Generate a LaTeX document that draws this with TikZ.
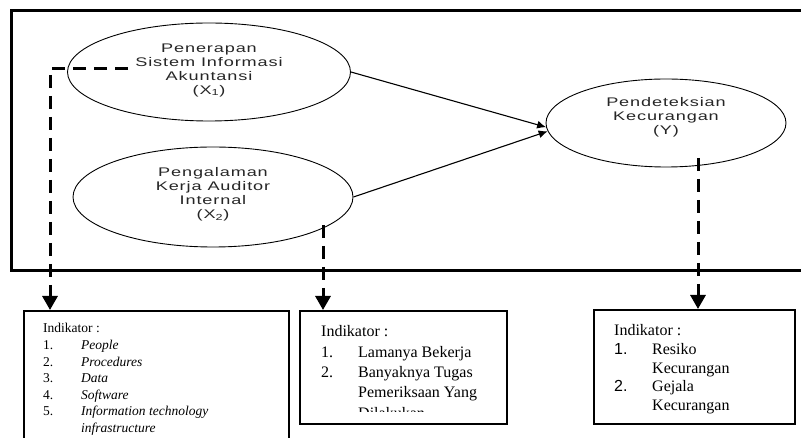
\documentclass[tikz,border=0pt]{standalone}
\usepackage{fontspec}
\setmainfont{Liberation Serif}
\newfontfamily\ellfont[FakeStretch=1.45,LetterSpace=7]{Liberation Sans}
\newfontfamily\arialfont{Liberation Sans}
\usetikzlibrary{arrows.meta,shapes.geometric}
\begin{document}
\begin{tikzpicture}[x=1pt,y=-1pt,
  ell/.style={draw, ellipse, line width=0.9pt, inner sep=0pt},
  elltext/.style={align=center, font=\ellfont\fontsize{12.5}{14}\selectfont, text=black!85, inner sep=0pt},
  link/.style={line width=1.1pt, -{Latex[length=9pt,width=8pt]}},
  dashlink/.style={line width=3pt, dash pattern=on 13pt off 8pt, -{Triangle[length=14pt,width=15pt]}},
  indbox/.style={draw, line width=1.6pt, inner sep=0pt, anchor=north west},
  indtext/.style={anchor=base west, inner sep=0pt},
  ]
\useasboundingbox (0,0) rectangle (801,438);
% outer frame
\draw[line width=3pt] (815,11) -- (11,11) -- (11,271) -- (815,271);
% ellipses
\node[ell, minimum width=283pt, minimum height=98pt] (e1) at (209,72) {};
\node[ell, minimum width=280pt, minimum height=100pt] (e2) at (213,197) {};
\node[ell, minimum width=240pt, minimum height=88pt] (ey) at (666,123) {};
\node[elltext] (t1) at (209,70) {Penerapan\\Sistem Informasi\\Akuntansi\\(X\textsubscript{1})};
\node[elltext] (t2) at (213,194) {Pengalaman\\Kerja Auditor\\Internal\\(X\textsubscript{2})};
\node[elltext] (ty) at (666,117) {Pendeteksian\\Kecurangan\\(Y)};
% arrows
\draw[link] (e1.east) -- (ey.182.5);
\draw[link] (e2.east) -- (ey.184);
% indicator boxes
\node[indbox, minimum width=265pt, minimum height=150pt] (b1) at (23,310) {};
\node[indbox, minimum width=207pt, minimum height=113pt] (b2) at (299,310) {};
\node[indbox, minimum width=201pt, minimum height=114pt] (b3) at (593,309) {};
% dashed connectors
\coordinate (d1s) at (128,69);
\coordinate (d1c) at (50,69);
\draw[dashlink] (d1s) -- (d1c) -- (d1c |- b1.north);
\coordinate (d2s) at (323,225);
\draw[dashlink] (d2s) -- (d2s |- b2.north);
\coordinate (d3s) at (698,158);
\draw[dashlink] (d3s) -- (d3s |- b3.north);
% box texts
\node[indtext, font=\fontsize{13.5}{16.6}\selectfont] (i1) at (43,333)
  {\begin{tabular}[t]{@{}p{38pt}@{}l@{}}
   \multicolumn{2}{@{}l@{}}{Indikator :}\\
   1. & \textit{People}\\
   2. & \textit{Procedures}\\
   3. & \textit{Data}\\
   4. & \textit{Software}\\
   5. & \textit{Information technology}\\
      & \textit{infrastructure}
   \end{tabular}};
\begin{scope}
\clip (299,310) rectangle (506,412);
\node[indtext, font=\fontsize{16}{20.3}\selectfont] (i2) at (321,337)
  {\begin{tabular}[t]{@{}p{37pt}@{}l@{}}
   \multicolumn{2}{@{}l@{}}{Indikator :}\\
   1. & Lamanya Bekerja\\
   2. & Banyaknya Tugas\\
      & Pemeriksaan Yang\\
      & Dilakukan
   \end{tabular}};
\end{scope}
\node[indtext, font=\fontsize{16}{18.6}\selectfont] (i3) at (614,336)
  {\begin{tabular}[t]{@{}p{38pt}@{}l@{}}
   \multicolumn{2}{@{}l@{}}{Indikator :}\\
   {\arialfont 1.} & Resiko\\
      & Kecurangan\\
   {\arialfont 2.} & Gejala\\
      & Kecurangan
   \end{tabular}};
\end{tikzpicture}
\end{document}
